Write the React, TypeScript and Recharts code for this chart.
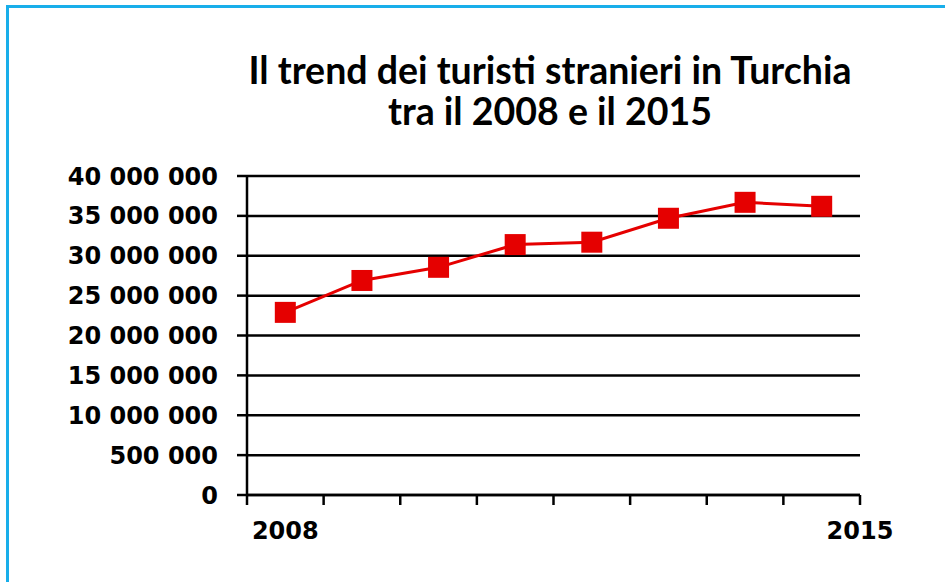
import React from "react";
import { LineChart, Line, XAxis, YAxis, CartesianGrid } from "recharts";

const years = ["2008", "2009", "2010", "2011", "2012", "2013", "2014", "2015"];
const tourists = [22900000, 26900000, 28550000, 31400000, 31700000, 34700000, 36700000, 36200000];
const yTicks = [0, 5000000, 10000000, 15000000, 20000000, 25000000, 30000000, 35000000, 40000000];
// the source really prints "500 000" for the 5M line
const yTickLabels = ["0", "500 000", "10 000 000", "15 000 000", "20 000 000", "25 000 000", "30 000 000", "35 000 000", "40 000 000"];
const titleLines = ["Il trend dei turisti stranieri in Turchia", "tra il 2008 e il 2015"];

const data = years.map((year, i) => ({ year, pos: i + 0.5, value: tourists[i] }));
// boundaries between years, plus the middle of the first slot for the "2008" label
const xTicks = [0, 0.5, 1, 2, 3, 4, 5, 6, 7, 8];

const AXIS_FONT = "'DejaVu Sans', sans-serif";
const RED = "#e50000";
const FRAME = "#18aeea";

const SquareDot = (props: any) => {
  const { cx, cy } = props;
  if (cx == null || cy == null) return null;
  return <rect x={cx - 10.5} y={cy - 10.5} width={21} height={21} fill={RED} />;
};

const XTick = (props: any) => {
  const { x, y, payload } = props;
  const v = payload.value;
  let label: string | null = null;
  if (v === 0.5) label = years[0];
  if (v === years.length) label = years[years.length - 1];
  return (
    <g>
      {Number.isInteger(v) && (
        <line x1={x} x2={x} y1={y} y2={y + 10} stroke="#000" strokeWidth={2.5} />
      )}
      {label && (
        <text x={x} y={y + 44} textAnchor="middle" fontFamily={AXIS_FONT} fontWeight="bold" fontSize={24} fill="#000">
          {label}
        </text>
      )}
    </g>
  );
};

export default function App() {
  return (
    <div style={{ position: "relative", width: 945, height: 582, overflow: "hidden" }}>
      <style>{"body{margin:0}"}</style>
      <div
        style={{
          position: "absolute",
          left: 150,
          top: 49,
          width: 800,
          textAlign: "center",
          fontFamily: "Lato, sans-serif",
          fontWeight: "bold",
          fontSize: 37.5,
          lineHeight: "41px",
          color: "#000",
        }}
      >
        {titleLines.map((t) => (
          <div key={t}>{t}</div>
        ))}
      </div>
      <div style={{ position: "absolute", left: 0, top: 0 }}>
        <LineChart width={945} height={582} data={data} margin={{ top: 176, right: 85, bottom: 27, left: 0 }}>
          <CartesianGrid vertical={false} stroke="#000" strokeWidth={2.5} />
          <XAxis
            dataKey="pos"
            type="number"
            domain={[0, years.length]}
            ticks={xTicks}
            interval={0}
            height={60}
            tickLine={false}
            tickSize={0}
            tickMargin={0}
            axisLine={{ stroke: "#000", strokeWidth: 2.5 }}
            tick={<XTick />}
          />
          <YAxis
            width={247}
            domain={[0, 40000000]}
            ticks={yTicks}
            interval={0}
            tickSize={10}
            tickMargin={19}
            tickLine={{ stroke: "#000", strokeWidth: 2.5 }}
            axisLine={{ stroke: "#000", strokeWidth: 2.5 }}
            tickFormatter={(v: number) => yTickLabels[yTicks.indexOf(v)]}
            tick={{ fontFamily: AXIS_FONT, fontWeight: "bold", fontSize: 24, fill: "#000" }}
          />
          <Line
            type="linear"
            dataKey="value"
            stroke={RED}
            strokeWidth={3}
            dot={<SquareDot />}
            activeDot={false}
            isAnimationActive={false}
          />
        </LineChart>
      </div>
      <div style={{ position: "absolute", left: 6, top: 5, width: 939, height: 3, background: FRAME }} />
      <div style={{ position: "absolute", left: 6, top: 5, width: 3, height: 577, background: FRAME }} />
    </div>
  );
}
